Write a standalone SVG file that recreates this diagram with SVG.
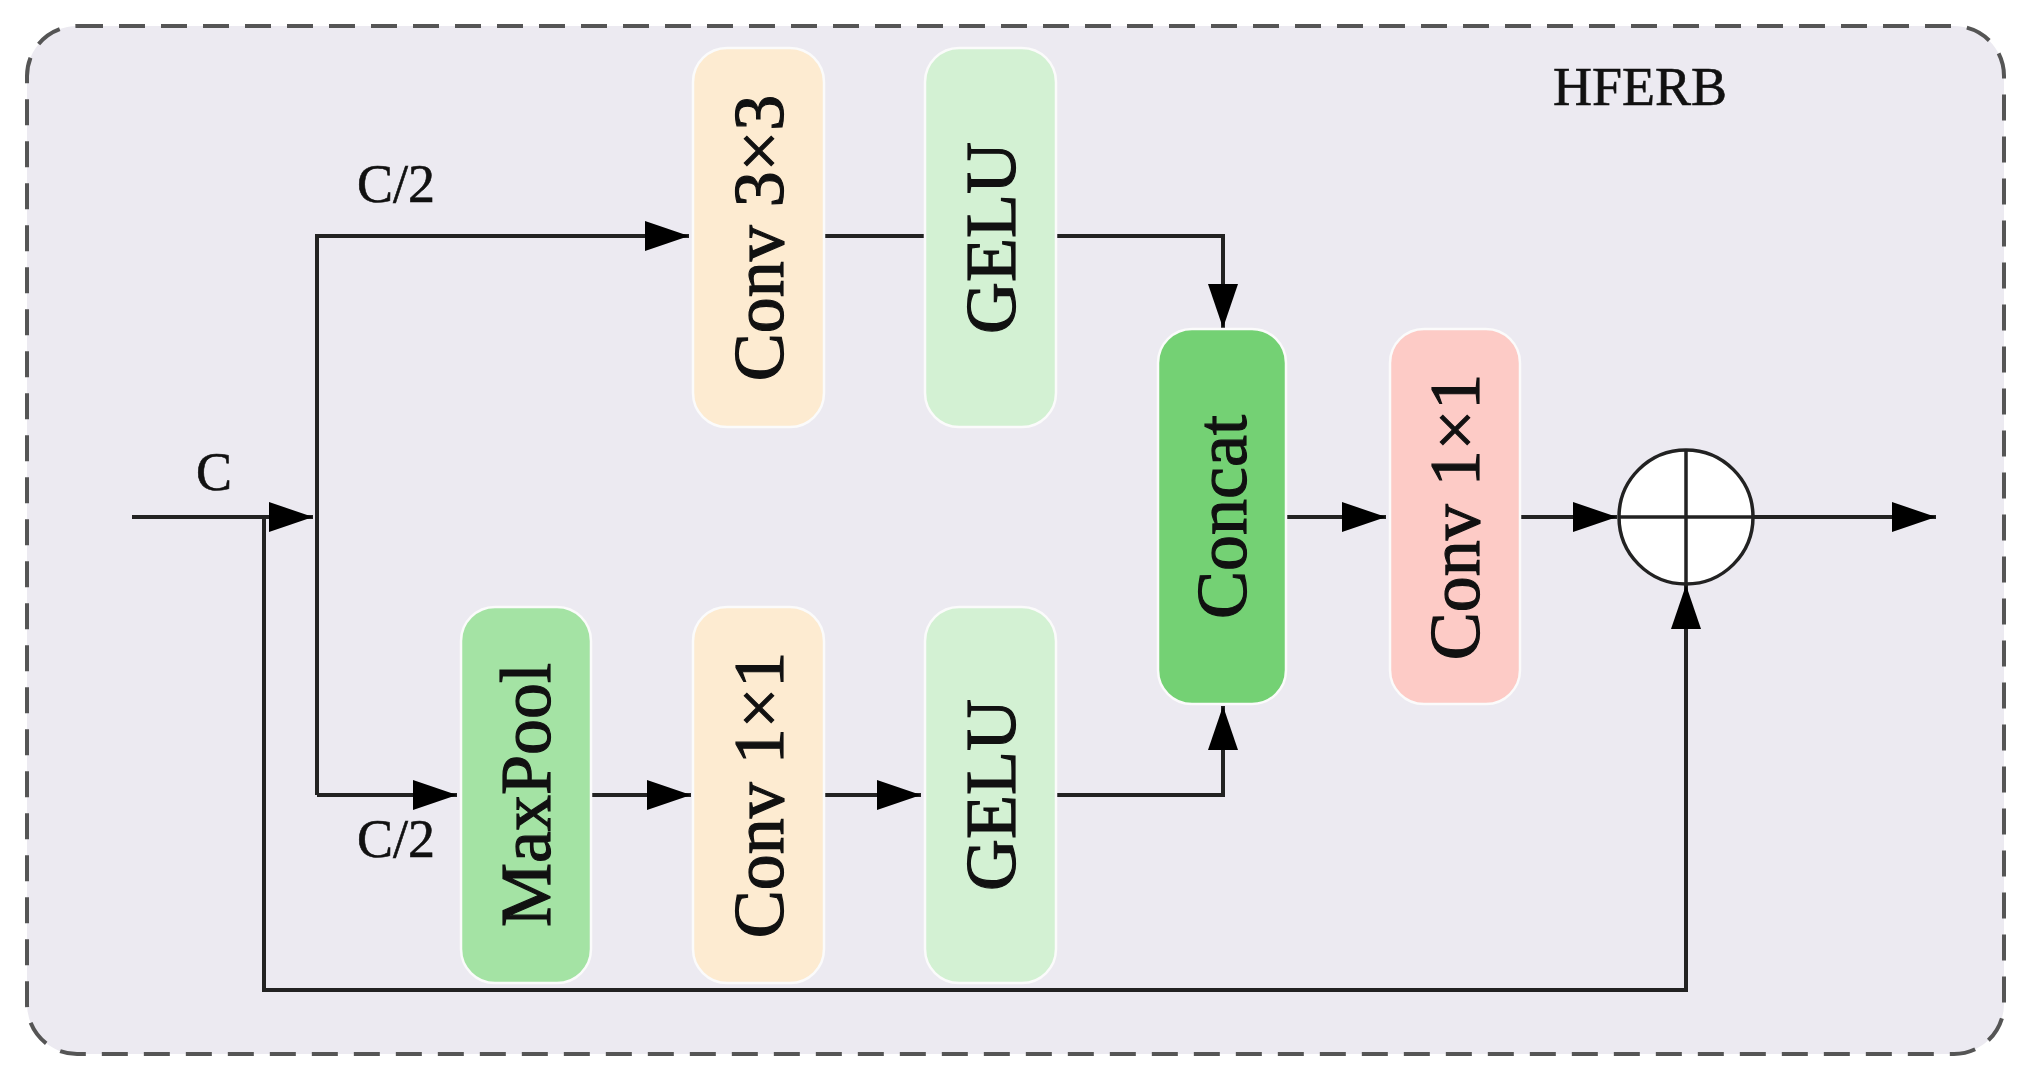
<svg xmlns="http://www.w3.org/2000/svg" width="2031" height="1080" viewBox="0 0 2031 1080">
<defs>
<style>
.frame{fill:#ECEAF1;stroke:#555;stroke-width:4;stroke-dasharray:26 16}
.box{stroke:#fbfbfb;stroke-width:2.5}
.conv{fill:#FDEBD1}
.gelu{fill:#D3F1D3}
.pool{fill:#A4E3A4}
.concat{fill:#74D174}
.pink{fill:#FDCBC6}
.lbl{font-family:"Liberation Serif","Times New Roman",serif;font-size:72px;fill:#111;stroke:#111;stroke-width:1.2;text-anchor:middle}
.small{font-family:"Liberation Serif","Times New Roman",serif;font-size:54px;fill:#111;stroke:#111;stroke-width:0.6;text-anchor:middle}
.wire{fill:none;stroke:#222;stroke-width:4}
</style>
<marker id="arr" markerUnits="userSpaceOnUse" markerWidth="44" markerHeight="32" refX="44" refY="16" orient="auto" viewBox="0 0 44 32">
<path d="M0,1 L44,16 L0,31 Z" fill="#000"/>
</marker>
</defs>
<rect width="2031" height="1080" fill="#ffffff"/>
<g id="frame">
<rect class="frame" x="27" y="26" width="1977" height="1028" rx="50" ry="50"/>
<text class="small" x="1640" y="105">HFERB</text>
</g>
<g id="connectors">
<path class="wire" d="M132,517 H313" marker-end="url(#arr)"/>
<path class="wire" d="M317,795 V236 H689" marker-end="url(#arr)"/>
<path class="wire" d="M317,795 H457" marker-end="url(#arr)"/>
<path class="wire" d="M824,236 H925"/>
<path class="wire" d="M1056,236 H1223 V328" marker-end="url(#arr)"/>
<path class="wire" d="M591,795 H691" marker-end="url(#arr)"/>
<path class="wire" d="M824,795 H921" marker-end="url(#arr)"/>
<path class="wire" d="M1056,795 H1223 V706" marker-end="url(#arr)"/>
<path class="wire" d="M1286,517 H1386" marker-end="url(#arr)"/>
<path class="wire" d="M1520,517 H1617" marker-end="url(#arr)"/>
<path class="wire" d="M264,517 V990 H1686 V585" marker-end="url(#arr)"/>
<path class="wire" d="M1753,517 H1936" marker-end="url(#arr)"/>
</g>
<g id="label-c">
<text class="small" x="214" y="490">C</text>
</g>
<g id="label-c2-top">
<text class="small" x="396" y="202">C/2</text>
</g>
<g id="label-c2-bottom">
<text class="small" x="396" y="857">C/2</text>
</g>
<g id="conv3x3">
<rect class="box conv" x="693" y="48" width="131" height="379" rx="34"/>
<text class="lbl" transform="translate(758.5,238) rotate(-90)" y="24">Conv 3×3</text>
</g>
<g id="gelu-top">
<rect class="box gelu" x="925" y="48" width="131" height="379" rx="34"/>
<text class="lbl" transform="translate(990.5,238) rotate(-90)" y="24">GELU</text>
</g>
<g id="maxpool">
<rect class="box pool" x="461" y="607" width="130" height="376" rx="34"/>
<text class="lbl" transform="translate(526,795) rotate(-90)" y="24">MaxPool</text>
</g>
<g id="conv1x1-bottom">
<rect class="box conv" x="693" y="607" width="131" height="376" rx="34"/>
<text class="lbl" transform="translate(758.5,795) rotate(-90)" y="24">Conv 1×1</text>
</g>
<g id="gelu-bottom">
<rect class="box gelu" x="925" y="607" width="131" height="376" rx="34"/>
<text class="lbl" transform="translate(990.5,795) rotate(-90)" y="24">GELU</text>
</g>
<g id="concat">
<rect class="box concat" x="1158" y="329" width="128" height="375" rx="34"/>
<text class="lbl" transform="translate(1222,517) rotate(-90)" y="24">Concat</text>
</g>
<g id="conv1x1-out">
<rect class="box pink" x="1390" y="329" width="130" height="375" rx="34"/>
<text class="lbl" transform="translate(1455,517) rotate(-90)" y="24">Conv 1×1</text>
</g>
<g id="add">
<circle cx="1686" cy="517" r="67" fill="#ffffff" stroke="#222" stroke-width="3.5"/>
<path d="M1619,517 H1753 M1686,450 V584" stroke="#222" stroke-width="3.5"/>
</g>
</svg>
